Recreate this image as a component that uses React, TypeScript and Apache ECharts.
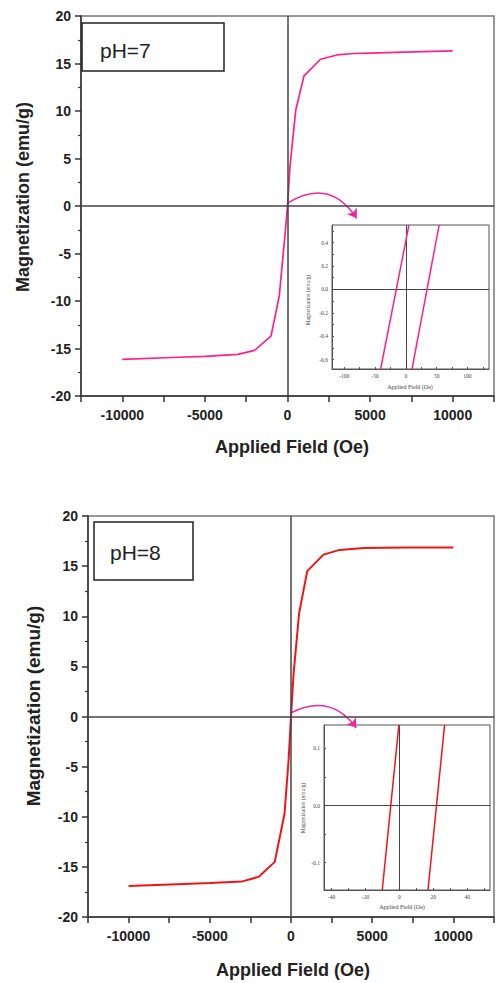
import React, { useEffect, useRef } from "react";
import * as echarts from "echarts";

// pH = 7 main loop
const fieldPH7 = [-10000, -7000, -5000, -3000, -2000, -1000, -500, -150, 0, 150, 500, 1000, 2000, 3000, 4000, 5000, 7000, 10000];
const magPH7 = [-16.15, -15.95, -15.82, -15.62, -15.2, -13.7, -9.5, -3.0, 0, 4.2, 10.1, 13.7, 15.45, 15.9, 16.05, 16.1, 16.2, 16.33];
// pH = 8 main loop
const fieldPH8 = [-10000, -7000, -5000, -3000, -2000, -1000, -400, -150, 0, 160, 500, 1000, 2000, 3000, 4500, 7000, 10000];
const magPH8 = [-16.9, -16.73, -16.62, -16.45, -16.0, -14.5, -9.7, -4.4, 0, 4.3, 10.3, 14.5, 16.15, 16.62, 16.8, 16.85, 16.87];

// insets (zoom near origin)
const insetPH7Mag = [-0.68, 0.55];
const insetPH7BranchA = [-41, 5];
const insetPH7BranchB = [10, 54];
const insetPH8Mag = [-0.148, 0.141];
const insetPH8BranchA = [-10.1, -0.3];
const insetPH8BranchB = [16.9, 26.7];

const xTickLabels = [-10000, -5000, 0, 5000, 10000];
const yTickLabels = [-20, -15, -10, -5, 0, 5, 10, 15, 20];
const insetPH7XLabels = [-100, -50, 0, 50, 100];
const insetPH7XTicks = [-100, -75, -50, -25, 0, 25, 50, 75, 100, 125];
const insetPH7YLabels = [-0.6, -0.4, -0.2, 0, 0.2, 0.4];
const insetPH7YTicks = [-0.6, -0.5, -0.4, -0.3, -0.2, -0.1, 0, 0.1, 0.2, 0.3, 0.4, 0.5];
const insetPH8XLabels = [-40, -20, 0, 20, 40];
const insetPH8XTicks = [-40, -30, -20, -10, 0, 10, 20, 30, 40, 50];
const insetPH8YLabels = [-0.1, 0, 0.1];
const insetPH8YTicks = [-0.1, -0.05, 0, 0.05, 0.1];

const PINK = "#ff1f8f";
const RED = "#f21414";
const ARROW = "#f0259e";

const zip = (xs: number[], ys: number[]) => xs.map((x, i) => [x, ys[i]]);

const mainX = (gridIndex: number) => ({
  type: "value",
  gridIndex,
  min: -12500,
  max: 12500,
  interval: 2500,
  axisLine: { show: true, onZero: false, lineStyle: { color: "#333", width: 1.5 } },
  axisTick: { show: true, length: 6, lineStyle: { color: "#333", width: 1.5 } },
  axisLabel: {
    formatter: (v: number) => (xTickLabels.includes(v) ? String(v) : ""),
    fontSize: 14,
    fontWeight: "bold",
    fontFamily: "Liberation Sans",
    color: "#222",
    margin: 12,
  },
  splitLine: { show: false },
});

const mainY = (gridIndex: number) => ({
  type: "value",
  gridIndex,
  min: -20,
  max: 20,
  interval: 5,
  axisLine: { show: true, onZero: false, lineStyle: { color: "#333", width: 1.5 } },
  axisTick: { show: true, length: 6, lineStyle: { color: "#333", width: 1.5 } },
  minorTick: { show: true, splitNumber: 2, length: 3, lineStyle: { color: "#333", width: 1.2 } },
  axisLabel: {
    formatter: (v: number) => (yTickLabels.includes(v) ? String(v) : ""),
    fontSize: 14,
    fontWeight: "bold",
    fontFamily: "Liberation Sans",
    color: "#222",
    margin: 10,
  },
  splitLine: { show: false },
  minorSplitLine: { show: false },
});

const insetAxisCommon = {
  axisLine: { show: true, onZero: false, lineStyle: { color: "#555", width: 1 } },
  splitLine: { show: false },
};

const insetLabel = (fmt: (v: number) => string) => ({
  fontSize: 5.5,
  fontFamily: "Liberation Serif",
  color: "#444",
  margin: 4,
  formatter: fmt,
});

const zeroLines = {
  silent: true,
  symbol: ["none", "none"],
  label: { show: false },
  lineStyle: { color: "#444", width: 1.5, type: "solid" },
  data: [{ xAxis: 0 }, { yAxis: 0 }],
};

const insetZeroLines = {
  silent: true,
  symbol: ["none", "none"],
  label: { show: false },
  lineStyle: { color: "#444", width: 1, type: "solid" },
  data: [{ xAxis: 0 }, { yAxis: 0 }],
};

export default function App() {
  const ref = useRef<HTMLDivElement>(null);
  useEffect(() => {
    if (!ref.current) return;
    const chart = echarts.init(ref.current, null, { renderer: "svg" });
    const option: any = {
      animation: false,
      backgroundColor: "#ffffff",
      grid: [
        { left: 81, top: 16, width: 422, height: 380, show: true, borderColor: "#777", borderWidth: 1.5 },
        { left: 332, top: 225, width: 157, height: 144, show: true, borderColor: "#555", borderWidth: 1, backgroundColor: "#fff" },
        { left: 88, top: 516, width: 408, height: 401, show: true, borderColor: "#777", borderWidth: 1.5 },
        { left: 324, top: 725, width: 166, height: 165, show: true, borderColor: "#555", borderWidth: 1, backgroundColor: "#fff" },
      ],
      xAxis: [
        mainX(0),
        {
          type: "value",
          gridIndex: 1,
          min: -120,
          max: 135,
          ...insetAxisCommon,
          axisTick: { show: true, inside: true, length: 2, customValues: insetPH7XTicks, lineStyle: { color: "#555" } },
          axisLabel: { ...insetLabel((v: number) => String(v)), customValues: insetPH7XLabels },
        },
        mainX(2),
        {
          type: "value",
          gridIndex: 3,
          min: -44.5,
          max: 53.5,
          ...insetAxisCommon,
          axisTick: { show: true, inside: true, length: 2, customValues: insetPH8XTicks, lineStyle: { color: "#555" } },
          axisLabel: { ...insetLabel((v: number) => String(v)), customValues: insetPH8XLabels },
        },
      ],
      yAxis: [
        mainY(0),
        {
          type: "value",
          gridIndex: 1,
          min: -0.68,
          max: 0.55,
          ...insetAxisCommon,
          axisTick: { show: true, inside: true, length: 2, customValues: insetPH7YTicks, lineStyle: { color: "#555" } },
          axisLabel: { ...insetLabel((v: number) => v.toFixed(1)), customValues: insetPH7YLabels },
        },
        mainY(2),
        {
          type: "value",
          gridIndex: 3,
          min: -0.148,
          max: 0.141,
          ...insetAxisCommon,
          axisTick: { show: true, inside: true, length: 2, customValues: insetPH8YTicks, lineStyle: { color: "#555" } },
          axisLabel: { ...insetLabel((v: number) => v.toFixed(1)), customValues: insetPH8YLabels },
        },
      ],
      series: [
        {
          type: "line",
          xAxisIndex: 0,
          yAxisIndex: 0,
          data: zip(fieldPH7, magPH7),
          showSymbol: false,
          lineStyle: { color: PINK, width: 1.7 },
          z: 3,
          markLine: zeroLines,
        },
        {
          type: "lines",
          coordinateSystem: "cartesian2d",
          xAxisIndex: 0,
          yAxisIndex: 0,
          symbol: ["none", "arrow"],
          symbolSize: 9,
          lineStyle: { color: ARROW, width: 1.5, curveness: 0.49, opacity: 1 },
          data: [{ coords: [[0, 0.3], [4190, -1.3]] }],
          z: 4,
        },
        {
          type: "line",
          xAxisIndex: 1,
          yAxisIndex: 1,
          data: zip(insetPH7BranchA, insetPH7Mag),
          showSymbol: false,
          lineStyle: { color: PINK, width: 1.5 },
          markLine: insetZeroLines,
          z: 5,
        },
        {
          type: "line",
          xAxisIndex: 1,
          yAxisIndex: 1,
          data: zip(insetPH7BranchB, insetPH7Mag),
          showSymbol: false,
          lineStyle: { color: PINK, width: 1.5 },
          z: 5,
        },
        {
          type: "line",
          xAxisIndex: 2,
          yAxisIndex: 2,
          data: zip(fieldPH8, magPH8),
          showSymbol: false,
          lineStyle: { color: RED, width: 2 },
          z: 3,
          markLine: zeroLines,
        },
        {
          type: "lines",
          coordinateSystem: "cartesian2d",
          xAxisIndex: 2,
          yAxisIndex: 2,
          symbol: ["none", "arrow"],
          symbolSize: 9,
          lineStyle: { color: ARROW, width: 1.5, curveness: 0.42, opacity: 1 },
          data: [{ coords: [[50, 0.4], [4025, -1.13]] }],
          z: 4,
        },
        {
          type: "line",
          xAxisIndex: 3,
          yAxisIndex: 3,
          data: zip(insetPH8BranchA, insetPH8Mag),
          showSymbol: false,
          lineStyle: { color: RED, width: 1.5 },
          markLine: insetZeroLines,
          z: 5,
        },
        {
          type: "line",
          xAxisIndex: 3,
          yAxisIndex: 3,
          data: zip(insetPH8BranchB, insetPH8Mag),
          showSymbol: false,
          lineStyle: { color: RED, width: 1.5 },
          z: 5,
        },
      ],
      graphic: [
        { type: "rect", shape: { x: 82, y: 23, width: 142, height: 48 }, style: { fill: "#fff", stroke: "#222", lineWidth: 1.5 }, z: 10 },
        { type: "text", x: 100, y: 50, style: { text: "pH=7", fontSize: 21, fontFamily: "Liberation Sans", fill: "#222", verticalAlign: "middle" }, z: 11 },
        { type: "rect", shape: { x: 94, y: 522, width: 99, height: 58 }, style: { fill: "#fff", stroke: "#222", lineWidth: 1.5 }, z: 10 },
        { type: "text", x: 110, y: 552, style: { text: "pH=8", fontSize: 21, fontFamily: "Liberation Sans", fill: "#222", verticalAlign: "middle" }, z: 11 },
        { type: "text", x: 23, y: 197, rotation: Math.PI / 2, style: { text: "Magnetization (emu/g)", fontSize: 18, fontWeight: "bold", fontFamily: "Liberation Sans", fill: "#222", align: "center", verticalAlign: "middle" } },
        { type: "text", x: 292, y: 447, style: { text: "Applied Field (Oe)", fontSize: 18, fontWeight: "bold", fontFamily: "Liberation Sans", fill: "#222", align: "center", verticalAlign: "middle" } },
        { type: "text", x: 33, y: 706, rotation: Math.PI / 2, style: { text: "Magnetization (emu/g)", fontSize: 19, fontWeight: "bold", fontFamily: "Liberation Sans", fill: "#222", align: "center", verticalAlign: "middle" } },
        { type: "text", x: 293, y: 970, style: { text: "Applied Field (Oe)", fontSize: 18, fontWeight: "bold", fontFamily: "Liberation Sans", fill: "#222", align: "center", verticalAlign: "middle" } },
        { type: "text", x: 308, y: 300, rotation: Math.PI / 2, style: { text: "Magnetization (emu/g)", fontSize: 5.5, fontFamily: "Liberation Serif", fill: "#444", align: "center", verticalAlign: "middle" } },
        { type: "text", x: 410, y: 387, style: { text: "Applied Field (Oe)", fontSize: 6, fontFamily: "Liberation Serif", fill: "#444", align: "center", verticalAlign: "middle" } },
        { type: "text", x: 303, y: 808, rotation: Math.PI / 2, style: { text: "Magnetization (emu/g)", fontSize: 5.5, fontFamily: "Liberation Serif", fill: "#444", align: "center", verticalAlign: "middle" } },
        { type: "text", x: 402, y: 907, style: { text: "Applied Field (Oe)", fontSize: 6, fontFamily: "Liberation Serif", fill: "#444", align: "center", verticalAlign: "middle" } },
      ],
    };
    chart.setOption(option);
    return () => chart.dispose();
  }, []);
  return (
    <div
      ref={ref}
      style={{ position: "absolute", left: 0, top: 0, width: 497, height: 983, background: "#fff" }}
    />
  );
}
